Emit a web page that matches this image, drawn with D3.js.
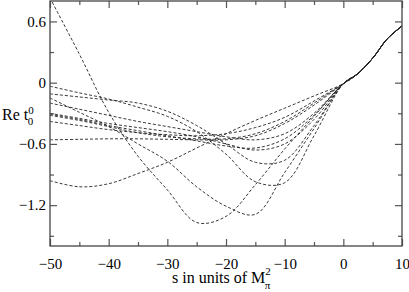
<!DOCTYPE html>
<html>
<head>
<meta charset="utf-8">
<script src="https://cdn.jsdelivr.net/npm/d3@7"></script>
<style>
  body { margin: 0; background: #fff; }
</style>
</head>
<body>
<div id="chart"></div>
<script>
// s values (units of M_pi^2) where the curves were read
const sNeg = [-50, -45, -40, -35, -30, -25, -20, -15, -10, -5, 0];
// common part for s > 0 (all curves coincide)
const sPos = [2.5, 5, 7.5, 10];
const tPos = [0.09, 0.24, 0.43, 0.555];

// Re t_0^0 for each curve at sNeg
const curveA = [0.83, 0.28, -0.29, -0.72, -1.05, -1.37, -1.31, -1.00, -0.65, -0.33, -0.01];
const curveB = [-0.15, -0.29, -0.43, -0.60, -0.77, -1.02, -1.21, -1.29, -0.88, -0.45, -0.01];
const curveC = [-0.035, -0.10, -0.16, -0.24, -0.33, -0.48, -0.70, -0.97, -0.98, -0.52, -0.01];
const curveD = [-0.96, -1.02, -0.99, -0.89, -0.78, -0.64, -0.50, -0.37, -0.25, -0.13, -0.01];
const curveE = [-0.56, -0.555, -0.55, -0.55, -0.555, -0.56, -0.56, -0.52, -0.40, -0.22, -0.01];
const curveF = [-0.11, -0.14, -0.17, -0.20, -0.28, -0.42, -0.60, -0.78, -0.76, -0.42, -0.01];
const curveG = [-0.20, -0.26, -0.32, -0.38, -0.43, -0.48, -0.53, -0.56, -0.50, -0.30, -0.01];
const curveH = [-0.30, -0.35, -0.40, -0.44, -0.48, -0.53, -0.60, -0.66, -0.60, -0.36, -0.01];
const curveI = [-0.31, -0.36, -0.42, -0.47, -0.52, -0.57, -0.62, -0.64, -0.55, -0.32, -0.01];
const curveJ = [-0.32, -0.37, -0.43, -0.49, -0.53, -0.55, -0.55, -0.50, -0.38, -0.20, -0.01];
const curveK = [-0.38, -0.42, -0.46, -0.49, -0.51, -0.52, -0.50, -0.44, -0.34, -0.18, -0.01];
const allCurves = [curveA, curveB, curveC, curveD, curveE, curveF, curveG, curveH, curveI, curveJ, curveK];

// tick values
const xMajor = [-50, -40, -30, -20, -10, 0, 10];
const xMinor = [-45, -35, -25, -15, -5, 5];
const yMajor = [0.6, 0, -0.6, -1.2];
const yMinor = [0.3, -0.3, -0.9, -1.5];

const serif = "'Liberation Serif', 'Times New Roman', 'DejaVu Serif', serif";

const width = 409;
const height = 292;
const margin = { top: 1, right: 7, bottom: 46, left: 50 };
const innerWidth = width - margin.left - margin.right;
const innerHeight = height - margin.top - margin.bottom;

const svg = d3.select("#chart")
  .append("svg")
  .attr("width", width)
  .attr("height", height)
  .attr("font-family", serif);

const chart = svg.append("g")
  .attr("transform", `translate(${margin.left}, ${margin.top})`);

const x = d3.scaleLinear().domain([-50, 10]).range([0, innerWidth]);
const y = d3.scaleLinear().domain([-1.6, 0.8]).range([innerHeight, 0]);

svg.append("defs").append("clipPath").attr("id", "clip")
  .append("rect").attr("width", innerWidth).attr("height", innerHeight);

// curves
const line = d3.line()
  .x(d => x(d[0]))
  .y(d => y(d[1]))
  .curve(d3.curveCatmullRom.alpha(0.5));

const lines = chart.append("g").attr("clip-path", "url(#clip)");
allCurves.forEach(function (vals) {
  const pts = sNeg.map((s, i) => [s, vals[i]]).concat(sPos.map((s, i) => [s, tPos[i]]));
  lines.append("path")
    .datum(pts)
    .attr("d", line)
    .attr("fill", "none")
    .attr("stroke", "#222")
    .attr("stroke-width", 0.9)
    .attr("stroke-dasharray", "3,2");
});

// frame ticks (inward, on all four sides)
const tickColor = "#555";
function axisGroup(axis, tr) {
  const g = chart.append("g").attr("transform", tr).call(axis);
  g.attr("font-family", serif).attr("font-size", 15);
  g.selectAll("path").remove();
  g.selectAll("line").attr("stroke", tickColor).attr("stroke-width", 1.2);
  g.selectAll("text").attr("fill", "#000").attr("font-family", serif);
  return g;
}
axisGroup(d3.axisBottom(x).tickValues(xMajor).tickSize(-7).tickPadding(12).tickFormat(d3.format("d")), `translate(0,${innerHeight})`);
axisGroup(d3.axisBottom(x).tickValues(xMinor).tickSize(-4).tickFormat(""), `translate(0,${innerHeight})`);
axisGroup(d3.axisTop(x).tickValues(xMajor).tickSize(-7).tickFormat(""), "translate(0,0)");
axisGroup(d3.axisTop(x).tickValues(xMinor).tickSize(-4).tickFormat(""), "translate(0,0)");

axisGroup(d3.axisLeft(y).tickValues(yMajor).tickSize(-7).tickPadding(4).tickFormat(d => d === 0 ? "0" : d3.format(".1f")(d)), "translate(0,0)");
axisGroup(d3.axisLeft(y).tickValues(yMinor).tickSize(-4).tickFormat(""), "translate(0,0)");
axisGroup(d3.axisRight(y).tickValues(yMajor).tickSize(-7).tickFormat(""), `translate(${innerWidth},0)`);
axisGroup(d3.axisRight(y).tickValues(yMinor).tickSize(-4).tickFormat(""), `translate(${innerWidth},0)`);

// frame
chart.append("rect")
  .attr("width", innerWidth)
  .attr("height", innerHeight)
  .attr("fill", "none")
  .attr("stroke", "#444")
  .attr("stroke-width", 1.3);

// x label: s in units of M_pi^2
const xl = svg.append("text")
  .attr("x", 172)
  .attr("y", 283)
  .attr("font-size", 16);
xl.append("tspan").text("s in units of M");
xl.append("tspan").attr("font-size", 11).attr("dy", -8).text("2");
xl.append("tspan").attr("font-size", 11).attr("dy", 14).attr("dx", -6).text("π");

// y label: Re t_0^0
const yl = svg.append("text")
  .attr("x", 2)
  .attr("y", 120)
  .attr("font-size", 16);
yl.append("tspan").text("Re t");
yl.append("tspan").attr("font-size", 11).attr("dy", -6).text("0");
yl.append("tspan").attr("font-size", 11).attr("dy", 11).attr("dx", -6).text("0");
</script>
</body>
</html>
